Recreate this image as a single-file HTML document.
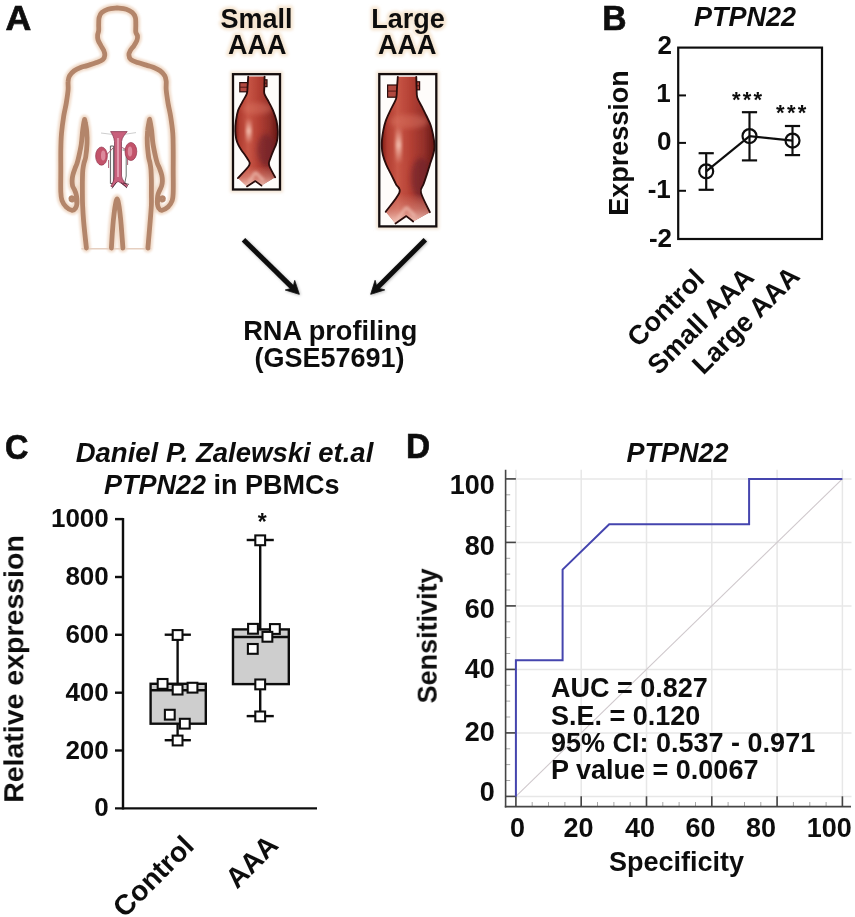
<!DOCTYPE html>
<html>
<head>
<meta charset="utf-8">
<title>Figure</title>
<style>
html,body{margin:0;padding:0;background:#fff;}
body{width:855px;height:917px;overflow:hidden;position:relative;}
svg{position:absolute;left:0;top:0;display:block;}
text{font-family:"Liberation Sans",sans-serif;font-weight:bold;fill:#111;}
.pl{font-size:35.4px;}
.ti{font-size:27px;font-style:italic;}
.tk{font-size:24.5px;}
.ax{font-size:27px;}
.st{font-weight:bold;font-size:22px;letter-spacing:2.25px;}
</style>
</head>
<body>
<svg width="855" height="917" viewBox="0 0 855 917">
<defs>
<filter id="soft" x="-5%" y="-5%" width="110%" height="110%"><feGaussianBlur stdDeviation="0.45"/></filter>
<filter id="blur1" x="-10%" y="-10%" width="120%" height="120%"><feGaussianBlur stdDeviation="1.3"/></filter>
</defs>
<rect x="0" y="0" width="855" height="917" fill="#ffffff"/>

<!-- ================= PANEL LETTERS ================= -->
<g filter="url(#soft)" class="pl" stroke="#111" stroke-width="0.7">
<text transform="translate(5.4,30.45) scale(1.01,1)">A</text>
<text transform="translate(602.3,30.45) scale(0.95,1)">B</text>
<text transform="translate(4.9,459.1) scale(0.918,1)">C</text>
<text transform="translate(405.95,458.25) scale(0.944,1)">D</text>
</g>

<!-- ================= PANEL A ================= -->
<g id="panelA">
<g fill="none" stroke-linejoin="round" stroke-linecap="round">
<g stroke="#f1dccb" stroke-width="9" filter="url(#blur1)"><path d="M86.4,248.0 C85.9,243.5 84.2,228.2 83.6,221.0 C83.0,213.8 82.8,209.3 82.6,205.0 C82.4,200.7 82.4,199.2 82.4,195.0 C82.4,190.8 82.3,184.2 82.4,180.0 C82.5,175.8 82.5,172.8 82.8,170.0 C83.1,167.2 83.5,165.2 84.0,163.0 C84.5,160.8 85.2,160.2 85.7,157.0 C86.2,153.8 86.8,148.3 87.0,144.0 C87.2,139.7 87.0,134.5 86.7,131.0 C86.4,127.5 85.8,125.0 85.4,123.0 C85.1,121.0 84.7,119.9 84.6,119.3 L84.6,119.3 C84.4,120.1 83.9,122.0 83.6,124.0 C83.3,126.0 83.0,127.7 82.6,131.0 C82.2,134.3 81.9,139.7 81.3,144.0 C80.7,148.3 79.4,153.8 78.7,157.0 C78.0,160.2 77.6,161.6 77.0,163.5 C76.4,165.4 75.7,166.6 75.0,168.5 C74.3,170.4 73.3,173.1 72.8,175.2 C72.3,177.3 72.1,179.2 72.1,181.0 C72.1,182.8 72.2,184.5 72.6,186.0 C73.0,187.5 74.0,188.6 74.6,190.0 C75.2,191.4 75.8,193.0 76.2,194.5 C76.6,196.0 76.8,197.4 76.9,199.0 C77.0,200.6 77.1,202.5 76.9,204.0 C76.7,205.5 76.4,206.9 75.6,208.0 C74.8,209.1 73.7,210.5 72.1,210.3 C70.5,210.1 67.9,208.6 66.2,207.0 C64.5,205.4 62.9,203.0 62.0,200.5 C61.1,198.0 61.0,197.1 60.8,192.0 C60.6,186.9 60.8,177.0 60.8,170.0 C60.8,163.0 60.7,156.1 60.8,150.0 C60.9,143.9 61.0,139.2 61.5,133.5 C62.0,127.8 62.9,121.2 63.7,116.1 C64.5,111.0 65.6,107.4 66.3,103.0 C67.0,98.6 67.8,93.5 68.1,89.9 C68.4,86.3 67.8,83.6 68.1,81.2 C68.3,78.8 68.6,77.5 69.6,75.7 C70.6,74.0 72.3,72.1 74.2,70.7 C76.1,69.3 79.0,68.1 81.2,67.2 C83.4,66.3 84.8,66.4 87.3,65.6 C89.8,64.8 93.9,63.6 96.5,62.6 C99.1,61.6 101.5,60.8 102.9,59.5 C104.3,58.2 104.7,56.5 104.8,55.0 C104.9,53.5 104.4,52.1 103.7,50.4 C103.0,48.7 101.5,46.8 100.6,45.0 C99.6,43.2 98.5,41.4 98.0,39.7 C97.5,38.1 97.5,36.6 97.6,35.1 C97.7,33.6 98.5,32.3 98.7,30.5 C98.9,28.7 98.6,26.5 98.7,24.4 C98.8,22.2 98.6,19.6 99.1,17.6 C99.6,15.6 100.3,14.0 101.8,12.6 C103.3,11.2 105.4,10.0 107.9,9.2 C110.5,8.4 115.6,8.2 117.1,8.0 L117.1,8.0 C118.6,8.2 123.7,8.4 126.2,9.2 C128.7,10.0 130.8,11.2 132.3,12.6 C133.8,14.0 134.8,15.6 135.4,17.6 C136.0,19.6 135.7,22.0 135.8,24.4 C135.9,26.8 135.5,30.2 135.8,32.1 C136.1,34.0 137.3,34.5 137.5,35.9 C137.7,37.3 137.5,38.9 136.9,40.5 C136.3,42.1 135.0,44.1 133.9,45.8 C132.8,47.4 131.2,48.9 130.4,50.4 C129.6,51.9 128.8,53.5 128.9,55.0 C129.0,56.5 129.3,58.2 130.8,59.5 C132.3,60.8 134.9,61.6 137.7,62.6 C140.5,63.6 145.0,64.8 147.6,65.6 C150.2,66.4 151.0,66.3 153.1,67.2 C155.2,68.1 158.2,69.3 160.1,70.7 C162.0,72.1 163.7,74.0 164.7,75.7 C165.7,77.5 165.9,78.8 166.2,81.2 C166.4,83.6 165.9,86.3 166.2,89.9 C166.5,93.5 167.3,98.6 168.0,103.0 C168.7,107.4 169.8,111.0 170.6,116.1 C171.4,121.2 172.4,127.8 172.8,133.5 C173.2,139.2 173.1,143.9 173.2,150.0 C173.3,156.1 173.2,163.0 173.2,170.0 C173.2,177.0 173.4,186.9 173.2,192.0 C173.0,197.1 173.1,198.0 172.2,200.5 C171.3,203.0 169.7,205.4 168.0,207.0 C166.3,208.6 163.4,210.1 161.8,210.3 C160.2,210.5 159.3,209.1 158.6,208.0 C157.9,206.9 157.6,205.5 157.4,204.0 C157.2,202.5 157.3,200.6 157.4,199.0 C157.5,197.4 157.6,196.0 158.0,194.5 C158.4,193.0 159.2,191.4 159.8,190.0 C160.4,188.6 161.2,187.5 161.6,186.0 C162.0,184.5 162.4,182.8 162.4,181.0 C162.4,179.2 162.3,177.3 161.8,175.2 C161.3,173.1 160.3,170.4 159.6,168.5 C158.9,166.6 158.1,165.4 157.4,163.5 C156.7,161.6 156.3,160.2 155.6,157.0 C154.9,153.8 153.7,148.3 153.0,144.0 C152.3,139.7 152.1,134.3 151.7,131.0 C151.3,127.7 150.9,126.0 150.6,124.0 C150.2,122.0 149.8,120.1 149.6,119.3 L149.6,119.3 C149.5,119.9 149.1,121.0 148.8,123.0 C148.5,125.0 147.8,127.5 147.6,131.0 C147.3,134.5 147.1,139.7 147.3,144.0 C147.5,148.3 148.2,153.8 148.6,157.0 C149.0,160.2 149.6,160.8 150.0,163.0 C150.4,165.2 150.8,167.2 151.0,170.0 C151.2,172.8 151.3,175.8 151.4,180.0 C151.5,184.2 151.4,190.8 151.4,195.0 C151.4,199.2 151.6,200.7 151.4,205.0 C151.2,209.3 150.8,213.8 150.2,221.0 C149.6,228.2 148.3,243.5 147.9,248.0"/><path d="M111.4,248.0 C111.6,245.3 112.0,237.0 112.4,232.0 C112.8,227.0 113.1,222.3 113.6,218.0 C114.1,213.7 114.6,209.2 115.2,206.0 C115.8,202.8 116.5,198.8 117.1,198.8 C117.7,198.8 118.4,202.8 119.0,206.0 C119.6,209.2 120.0,213.7 120.5,218.0 C121.0,222.3 121.3,227.0 121.7,232.0 C122.1,237.0 122.7,245.3 122.9,248.0"/></g>
<line x1="82" y1="248.8" x2="150.6" y2="248.8" stroke="#e6cfc0" stroke-width="1.6"/>
<g stroke="#b3856a" stroke-width="4.8" filter="url(#soft)"><path d="M86.4,248.0 C85.9,243.5 84.2,228.2 83.6,221.0 C83.0,213.8 82.8,209.3 82.6,205.0 C82.4,200.7 82.4,199.2 82.4,195.0 C82.4,190.8 82.3,184.2 82.4,180.0 C82.5,175.8 82.5,172.8 82.8,170.0 C83.1,167.2 83.5,165.2 84.0,163.0 C84.5,160.8 85.2,160.2 85.7,157.0 C86.2,153.8 86.8,148.3 87.0,144.0 C87.2,139.7 87.0,134.5 86.7,131.0 C86.4,127.5 85.8,125.0 85.4,123.0 C85.1,121.0 84.7,119.9 84.6,119.3 L84.6,119.3 C84.4,120.1 83.9,122.0 83.6,124.0 C83.3,126.0 83.0,127.7 82.6,131.0 C82.2,134.3 81.9,139.7 81.3,144.0 C80.7,148.3 79.4,153.8 78.7,157.0 C78.0,160.2 77.6,161.6 77.0,163.5 C76.4,165.4 75.7,166.6 75.0,168.5 C74.3,170.4 73.3,173.1 72.8,175.2 C72.3,177.3 72.1,179.2 72.1,181.0 C72.1,182.8 72.2,184.5 72.6,186.0 C73.0,187.5 74.0,188.6 74.6,190.0 C75.2,191.4 75.8,193.0 76.2,194.5 C76.6,196.0 76.8,197.4 76.9,199.0 C77.0,200.6 77.1,202.5 76.9,204.0 C76.7,205.5 76.4,206.9 75.6,208.0 C74.8,209.1 73.7,210.5 72.1,210.3 C70.5,210.1 67.9,208.6 66.2,207.0 C64.5,205.4 62.9,203.0 62.0,200.5 C61.1,198.0 61.0,197.1 60.8,192.0 C60.6,186.9 60.8,177.0 60.8,170.0 C60.8,163.0 60.7,156.1 60.8,150.0 C60.9,143.9 61.0,139.2 61.5,133.5 C62.0,127.8 62.9,121.2 63.7,116.1 C64.5,111.0 65.6,107.4 66.3,103.0 C67.0,98.6 67.8,93.5 68.1,89.9 C68.4,86.3 67.8,83.6 68.1,81.2 C68.3,78.8 68.6,77.5 69.6,75.7 C70.6,74.0 72.3,72.1 74.2,70.7 C76.1,69.3 79.0,68.1 81.2,67.2 C83.4,66.3 84.8,66.4 87.3,65.6 C89.8,64.8 93.9,63.6 96.5,62.6 C99.1,61.6 101.5,60.8 102.9,59.5 C104.3,58.2 104.7,56.5 104.8,55.0 C104.9,53.5 104.4,52.1 103.7,50.4 C103.0,48.7 101.5,46.8 100.6,45.0 C99.6,43.2 98.5,41.4 98.0,39.7 C97.5,38.1 97.5,36.6 97.6,35.1 C97.7,33.6 98.5,32.3 98.7,30.5 C98.9,28.7 98.6,26.5 98.7,24.4 C98.8,22.2 98.6,19.6 99.1,17.6 C99.6,15.6 100.3,14.0 101.8,12.6 C103.3,11.2 105.4,10.0 107.9,9.2 C110.5,8.4 115.6,8.2 117.1,8.0 L117.1,8.0 C118.6,8.2 123.7,8.4 126.2,9.2 C128.7,10.0 130.8,11.2 132.3,12.6 C133.8,14.0 134.8,15.6 135.4,17.6 C136.0,19.6 135.7,22.0 135.8,24.4 C135.9,26.8 135.5,30.2 135.8,32.1 C136.1,34.0 137.3,34.5 137.5,35.9 C137.7,37.3 137.5,38.9 136.9,40.5 C136.3,42.1 135.0,44.1 133.9,45.8 C132.8,47.4 131.2,48.9 130.4,50.4 C129.6,51.9 128.8,53.5 128.9,55.0 C129.0,56.5 129.3,58.2 130.8,59.5 C132.3,60.8 134.9,61.6 137.7,62.6 C140.5,63.6 145.0,64.8 147.6,65.6 C150.2,66.4 151.0,66.3 153.1,67.2 C155.2,68.1 158.2,69.3 160.1,70.7 C162.0,72.1 163.7,74.0 164.7,75.7 C165.7,77.5 165.9,78.8 166.2,81.2 C166.4,83.6 165.9,86.3 166.2,89.9 C166.5,93.5 167.3,98.6 168.0,103.0 C168.7,107.4 169.8,111.0 170.6,116.1 C171.4,121.2 172.4,127.8 172.8,133.5 C173.2,139.2 173.1,143.9 173.2,150.0 C173.3,156.1 173.2,163.0 173.2,170.0 C173.2,177.0 173.4,186.9 173.2,192.0 C173.0,197.1 173.1,198.0 172.2,200.5 C171.3,203.0 169.7,205.4 168.0,207.0 C166.3,208.6 163.4,210.1 161.8,210.3 C160.2,210.5 159.3,209.1 158.6,208.0 C157.9,206.9 157.6,205.5 157.4,204.0 C157.2,202.5 157.3,200.6 157.4,199.0 C157.5,197.4 157.6,196.0 158.0,194.5 C158.4,193.0 159.2,191.4 159.8,190.0 C160.4,188.6 161.2,187.5 161.6,186.0 C162.0,184.5 162.4,182.8 162.4,181.0 C162.4,179.2 162.3,177.3 161.8,175.2 C161.3,173.1 160.3,170.4 159.6,168.5 C158.9,166.6 158.1,165.4 157.4,163.5 C156.7,161.6 156.3,160.2 155.6,157.0 C154.9,153.8 153.7,148.3 153.0,144.0 C152.3,139.7 152.1,134.3 151.7,131.0 C151.3,127.7 150.9,126.0 150.6,124.0 C150.2,122.0 149.8,120.1 149.6,119.3 L149.6,119.3 C149.5,119.9 149.1,121.0 148.8,123.0 C148.5,125.0 147.8,127.5 147.6,131.0 C147.3,134.5 147.1,139.7 147.3,144.0 C147.5,148.3 148.2,153.8 148.6,157.0 C149.0,160.2 149.6,160.8 150.0,163.0 C150.4,165.2 150.8,167.2 151.0,170.0 C151.2,172.8 151.3,175.8 151.4,180.0 C151.5,184.2 151.4,190.8 151.4,195.0 C151.4,199.2 151.6,200.7 151.4,205.0 C151.2,209.3 150.8,213.8 150.2,221.0 C149.6,228.2 148.3,243.5 147.9,248.0"/><path d="M111.4,248.0 C111.6,245.3 112.0,237.0 112.4,232.0 C112.8,227.0 113.1,222.3 113.6,218.0 C114.1,213.7 114.6,209.2 115.2,206.0 C115.8,202.8 116.5,198.8 117.1,198.8 C117.7,198.8 118.4,202.8 119.0,206.0 C119.6,209.2 120.0,213.7 120.5,218.0 C121.0,222.3 121.3,227.0 121.7,232.0 C122.1,237.0 122.7,245.3 122.9,248.0"/><path d="M76.6,203 C75.6,198.6 72.6,196 70.6,197.4 C69.2,199 70.4,201.4 72.8,200.6" stroke-width="3.4"/><path d="M157.7,203 C158.7,198.6 161.7,196 163.7,197.4 C165.1,199 163.9,201.4 161.5,200.6" stroke-width="3.4"/></g>
</g>
<g filter="url(#soft)">
<path d="M110.4,146 L110.4,183.5 L113.6,183.5 L113.6,146 Z" fill="#f6f6f6" stroke="#4c4c4c" stroke-width="0.9"/>
<path d="M122.6,150 L126.2,150 L126.2,176 L124.6,184 " fill="none" stroke="#566460" stroke-width="0.9"/>
<path d="M106,155.5 L113.5,147.5 M128,150.5 L122,147.5 M108.6,160 L108.6,168 M127.6,156 L127.6,165" fill="none" stroke="#a4546a" stroke-width="0.9"/>
<path d="M101,133 L112,134.4 M124,134.4 L136,132.6" stroke="#b8b8b8" stroke-width="0.7" fill="none"/>
<ellipse cx="101.5" cy="156.1" rx="5.9" ry="9.1" fill="#c2526a" stroke="#8c2c44" stroke-width="0.6"/>
<ellipse cx="103.2" cy="155.6" rx="2.2" ry="5" fill="#dc8a9c"/>
<ellipse cx="130.9" cy="151.5" rx="5.9" ry="9.1" fill="#c2526a" stroke="#8c2c44" stroke-width="0.6"/>
<ellipse cx="130" cy="151.4" rx="2.2" ry="5" fill="#dc8a9c"/>
<path d="M110.6,131.6 L127.2,131.6 C124.8,134.6 122,137.4 121.5,141.6 L121.5,176 C122,180 125.4,183.4 128,185.8 L126.2,186.8 C123.2,184.6 120.2,182.4 118,181.4 C116.2,182.6 113.8,185.2 112.4,187 L110.8,186.2 C112.6,183.2 114.2,180 114.5,176 L114.5,141.6 C114,137.4 112.6,134.6 110.6,131.6 Z" fill="#c8607c" stroke="#7c2c46" stroke-width="0.7"/>
<path d="M118,138 L118,177" stroke="#e6a2b4" stroke-width="1.8" fill="none"/>
<path d="M112,188.4 L116.4,182.4 M127,188 L121,182.6 M123,183 L129,184.4" stroke="#3c2430" stroke-width="0.8" fill="none"/>
</g>
<defs>
<linearGradient id="gA" x1="0" x2="1" y1="0" y2="0">
<stop offset="0" stop-color="#7a1c16"/><stop offset="0.10" stop-color="#b03c30"/><stop offset="0.30" stop-color="#c85646"/>
<stop offset="0.55" stop-color="#b44034"/><stop offset="0.80" stop-color="#94302a"/><stop offset="1" stop-color="#641814"/>
</linearGradient>
<linearGradient id="gL" x1="0" x2="0" y1="0" y2="1">
<stop offset="0" stop-color="#e09486" stop-opacity="0"/><stop offset="0.45" stop-color="#e09486" stop-opacity="0.55"/><stop offset="0.85" stop-color="#f2c6ba" stop-opacity="0.95"/><stop offset="1" stop-color="#f6d6cc" stop-opacity="1"/>
</linearGradient>
<linearGradient id="gH" x1="0" x2="0" y1="0" y2="1">
<stop offset="0" stop-color="#f2b8a8" stop-opacity="0"/><stop offset="0.5" stop-color="#f4c0b0" stop-opacity="0.95"/><stop offset="1" stop-color="#f2b8a8" stop-opacity="0"/>
</linearGradient>
<filter id="blur2" x="-30%" y="-30%" width="160%" height="160%"><feGaussianBlur stdDeviation="1.6"/></filter>
<filter id="blur3" x="-30%" y="-30%" width="160%" height="160%"><feGaussianBlur stdDeviation="2.4"/></filter>
</defs>
<g filter="url(#soft)"><rect x="230" y="71.2" width="53" height="121.3" fill="#f3e4d4" filter="url(#blur2)"/>
<rect x="233" y="74.2" width="47" height="115.3" fill="#fefcfa"/>
<rect x="239.8" y="82.6" width="9.199999999999989" height="9.200000000000003" fill="#b24a40" stroke="#2a0c0a" stroke-width="1.2"/>
<line x1="239.8" y1="87.19999999999999" x2="249" y2="87.19999999999999" stroke="#4a1410" stroke-width="0.9"/>
<rect x="263.6" y="79.8" width="3.3999999999999773" height="6.799999999999997" fill="#b24a40" stroke="#2a0c0a" stroke-width="1.2"/>
<line x1="263.6" y1="83.19999999999999" x2="267" y2="83.19999999999999" stroke="#4a1410" stroke-width="0.9"/>
<clipPath id="c233"><path d="M248.2,76.6 C248.1,78.2 247.8,83.1 247.6,86.0 C247.4,88.9 247.7,91.2 246.8,93.8 C246.0,96.4 243.9,98.8 242.5,101.6 C241.1,104.4 239.2,107.2 238.1,110.4 C237.0,113.6 236.4,117.3 235.9,120.8 C235.4,124.3 235.2,128.3 235.3,131.3 C235.4,134.3 235.7,136.8 236.2,139.0 C236.7,141.2 237.3,142.8 238.2,144.6 C239.0,146.4 239.7,147.5 241.3,149.9 C242.9,152.3 246.3,156.5 247.6,159.0 C248.9,161.5 250.9,161.9 249.3,165.1 C247.7,168.3 239.8,175.8 237.9,178.0 L247.0,186.4 L255.4,181.1 L261.5,185.6 L275.2,177.3 C274.2,175.3 269.9,168.2 269.1,165.1 C268.3,162.0 269.4,161.5 270.2,159.0 C271.0,156.5 272.7,152.3 273.7,149.9 C274.7,147.5 275.4,146.4 276.0,144.6 C276.6,142.8 277.1,141.2 277.4,139.0 C277.7,136.8 277.9,134.3 277.8,131.3 C277.7,128.3 277.3,124.3 276.5,120.8 C275.7,117.3 274.3,113.6 273.0,110.4 C271.7,107.2 270.0,104.4 268.6,101.6 C267.2,98.8 265.1,96.4 264.4,93.8 C263.7,91.2 264.4,88.9 264.4,86.0 C264.4,83.1 264.6,78.2 264.6,76.6 Z"/></clipPath>
<path d="M248.2,76.6 C248.1,78.2 247.8,83.1 247.6,86.0 C247.4,88.9 247.7,91.2 246.8,93.8 C246.0,96.4 243.9,98.8 242.5,101.6 C241.1,104.4 239.2,107.2 238.1,110.4 C237.0,113.6 236.4,117.3 235.9,120.8 C235.4,124.3 235.2,128.3 235.3,131.3 C235.4,134.3 235.7,136.8 236.2,139.0 C236.7,141.2 237.3,142.8 238.2,144.6 C239.0,146.4 239.7,147.5 241.3,149.9 C242.9,152.3 246.3,156.5 247.6,159.0 C248.9,161.5 250.9,161.9 249.3,165.1 C247.7,168.3 239.8,175.8 237.9,178.0 L247.0,186.4 L255.4,181.1 L261.5,185.6 L275.2,177.3 C274.2,175.3 269.9,168.2 269.1,165.1 C268.3,162.0 269.4,161.5 270.2,159.0 C271.0,156.5 272.7,152.3 273.7,149.9 C274.7,147.5 275.4,146.4 276.0,144.6 C276.6,142.8 277.1,141.2 277.4,139.0 C277.7,136.8 277.9,134.3 277.8,131.3 C277.7,128.3 277.3,124.3 276.5,120.8 C275.7,117.3 274.3,113.6 273.0,110.4 C271.7,107.2 270.0,104.4 268.6,101.6 C267.2,98.8 265.1,96.4 264.4,93.8 C263.7,91.2 264.4,88.9 264.4,86.0 C264.4,83.1 264.6,78.2 264.6,76.6 Z" fill="url(#gA)"/>
<g clip-path="url(#c233)">
<ellipse cx="266" cy="150" rx="9" ry="16" fill="#5e1a2c" opacity="0.5" filter="url(#blur3)"/>
<ellipse cx="257" cy="108.5" rx="15" ry="6" fill="#dc7866" opacity="0.45" filter="url(#blur3)"/>
<rect x="246" y="118" width="5.6" height="26" rx="2" fill="url(#gH)" filter="url(#blur2)"/>
<rect x="233" y="166.1" width="47" height="23.4" fill="url(#gL)"/>
<path d="M255.4,172.1 L249.0,182.4 M255.4,172.1 L263.5,180.6" stroke="#f2c4b8" stroke-width="3" fill="none" opacity="0.7" filter="url(#blur2)"/>
</g>
<path d="M248.2,76.6 C248.1,78.2 247.8,83.1 247.6,86.0 C247.4,88.9 247.7,91.2 246.8,93.8 C246.0,96.4 243.9,98.8 242.5,101.6 C241.1,104.4 239.2,107.2 238.1,110.4 C237.0,113.6 236.4,117.3 235.9,120.8 C235.4,124.3 235.2,128.3 235.3,131.3 C235.4,134.3 235.7,136.8 236.2,139.0 C236.7,141.2 237.3,142.8 238.2,144.6 C239.0,146.4 239.7,147.5 241.3,149.9 C242.9,152.3 246.3,156.5 247.6,159.0 C248.9,161.5 250.9,161.9 249.3,165.1 C247.7,168.3 239.8,175.8 237.9,178.0 M264.6,76.6 C264.6,78.2 264.4,83.1 264.4,86.0 C264.4,88.9 263.7,91.2 264.4,93.8 C265.1,96.4 267.2,98.8 268.6,101.6 C270.0,104.4 271.7,107.2 273.0,110.4 C274.3,113.6 275.7,117.3 276.5,120.8 C277.3,124.3 277.7,128.3 277.8,131.3 C277.9,134.3 277.7,136.8 277.4,139.0 C277.1,141.2 276.6,142.8 276.0,144.6 C275.4,146.4 274.7,147.5 273.7,149.9 C272.7,152.3 271.0,156.5 270.2,159.0 C269.4,161.5 268.3,162.0 269.1,165.1 C269.9,168.2 274.2,175.3 275.2,177.3 M247.0,186.4 L255.4,181.1 L261.5,185.6" fill="none" stroke="#2a0a08" stroke-width="1.8" stroke-linecap="round" stroke-linejoin="round"/>
<rect x="233" y="74.2" width="47" height="115.3" fill="none" stroke="#141010" stroke-width="2.3"/>
<rect x="376.3" y="71.1" width="63.0" height="158.3" fill="#f3e4d4" filter="url(#blur2)"/>
<rect x="379.3" y="74.1" width="57.0" height="152.3" fill="#fefcfa"/>
<rect x="387.6" y="85" width="11.399999999999977" height="12.200000000000003" fill="#b24a40" stroke="#2a0c0a" stroke-width="1.2"/>
<line x1="387.6" y1="91.1" x2="399" y2="91.1" stroke="#4a1410" stroke-width="0.9"/>
<rect x="415" y="81.8" width="4.600000000000023" height="8.0" fill="#b24a40" stroke="#2a0c0a" stroke-width="1.2"/>
<line x1="415" y1="85.8" x2="419.6" y2="85.8" stroke="#4a1410" stroke-width="0.9"/>
<clipPath id="c379"><path d="M397.8,76.8 C397.7,78.7 397.2,84.6 397.0,88.0 C396.8,91.4 396.8,95.1 396.4,97.4 C396.0,99.8 395.7,99.8 394.6,102.1 C393.5,104.4 391.4,108.2 389.9,111.3 C388.4,114.4 386.9,117.5 385.8,120.6 C384.7,123.7 384.0,126.8 383.4,129.9 C382.8,133.0 382.3,136.2 382.0,139.1 C381.7,141.9 381.7,144.4 381.8,147.0 C381.9,149.6 382.1,151.9 382.8,154.8 C383.5,157.7 384.8,161.3 386.2,164.6 C387.6,167.9 389.5,171.1 391.1,174.4 C392.7,177.7 394.6,181.3 396.0,184.3 C397.4,187.3 401.1,188.0 399.4,192.6 C397.7,197.2 388.0,208.5 385.7,211.7 L395.5,223.5 L406.3,216.1 L413.2,221.5 L429.9,212.2 C428.4,208.9 422.1,197.2 421.0,192.6 C419.9,187.9 422.5,187.3 423.5,184.3 C424.5,181.3 425.8,177.7 426.9,174.4 C428.0,171.1 428.9,167.6 429.9,164.6 C430.8,161.6 431.9,158.9 432.6,156.5 C433.3,154.1 433.9,152.1 434.2,150.0 C434.5,147.9 434.6,146.4 434.4,143.8 C434.2,141.2 433.6,137.6 433.0,134.5 C432.4,131.4 431.8,128.3 430.7,125.2 C429.6,122.1 428.0,119.1 426.5,116.0 C425.0,112.9 423.4,109.8 421.9,106.7 C420.4,103.6 418.2,100.5 417.3,97.4 C416.4,94.3 416.8,91.4 416.6,88.0 C416.4,84.6 416.4,78.7 416.3,76.8 Z"/></clipPath>
<path d="M397.8,76.8 C397.7,78.7 397.2,84.6 397.0,88.0 C396.8,91.4 396.8,95.1 396.4,97.4 C396.0,99.8 395.7,99.8 394.6,102.1 C393.5,104.4 391.4,108.2 389.9,111.3 C388.4,114.4 386.9,117.5 385.8,120.6 C384.7,123.7 384.0,126.8 383.4,129.9 C382.8,133.0 382.3,136.2 382.0,139.1 C381.7,141.9 381.7,144.4 381.8,147.0 C381.9,149.6 382.1,151.9 382.8,154.8 C383.5,157.7 384.8,161.3 386.2,164.6 C387.6,167.9 389.5,171.1 391.1,174.4 C392.7,177.7 394.6,181.3 396.0,184.3 C397.4,187.3 401.1,188.0 399.4,192.6 C397.7,197.2 388.0,208.5 385.7,211.7 L395.5,223.5 L406.3,216.1 L413.2,221.5 L429.9,212.2 C428.4,208.9 422.1,197.2 421.0,192.6 C419.9,187.9 422.5,187.3 423.5,184.3 C424.5,181.3 425.8,177.7 426.9,174.4 C428.0,171.1 428.9,167.6 429.9,164.6 C430.8,161.6 431.9,158.9 432.6,156.5 C433.3,154.1 433.9,152.1 434.2,150.0 C434.5,147.9 434.6,146.4 434.4,143.8 C434.2,141.2 433.6,137.6 433.0,134.5 C432.4,131.4 431.8,128.3 430.7,125.2 C429.6,122.1 428.0,119.1 426.5,116.0 C425.0,112.9 423.4,109.8 421.9,106.7 C420.4,103.6 418.2,100.5 417.3,97.4 C416.4,94.3 416.8,91.4 416.6,88.0 C416.4,84.6 416.4,78.7 416.3,76.8 Z" fill="url(#gA)"/>
<g clip-path="url(#c379)">
<ellipse cx="421" cy="178" rx="10" ry="20" fill="#5e1a2c" opacity="0.5" filter="url(#blur3)"/>
<ellipse cx="409" cy="121.5" rx="19" ry="7" fill="#dc7866" opacity="0.45" filter="url(#blur3)"/>
<rect x="395.6" y="126" width="6" height="38" rx="2" fill="url(#gH)" filter="url(#blur2)"/>
<rect x="379.3" y="193.6" width="57.0" height="32.8" fill="url(#gL)"/>
<path d="M406.3,207.1 L397.5,219.5 M406.3,207.1 L415.2,216.5" stroke="#f2c4b8" stroke-width="3" fill="none" opacity="0.7" filter="url(#blur2)"/>
</g>
<path d="M397.8,76.8 C397.7,78.7 397.2,84.6 397.0,88.0 C396.8,91.4 396.8,95.1 396.4,97.4 C396.0,99.8 395.7,99.8 394.6,102.1 C393.5,104.4 391.4,108.2 389.9,111.3 C388.4,114.4 386.9,117.5 385.8,120.6 C384.7,123.7 384.0,126.8 383.4,129.9 C382.8,133.0 382.3,136.2 382.0,139.1 C381.7,141.9 381.7,144.4 381.8,147.0 C381.9,149.6 382.1,151.9 382.8,154.8 C383.5,157.7 384.8,161.3 386.2,164.6 C387.6,167.9 389.5,171.1 391.1,174.4 C392.7,177.7 394.6,181.3 396.0,184.3 C397.4,187.3 401.1,188.0 399.4,192.6 C397.7,197.2 388.0,208.5 385.7,211.7 M416.3,76.8 C416.4,78.7 416.4,84.6 416.6,88.0 C416.8,91.4 416.4,94.3 417.3,97.4 C418.2,100.5 420.4,103.6 421.9,106.7 C423.4,109.8 425.0,112.9 426.5,116.0 C428.0,119.1 429.6,122.1 430.7,125.2 C431.8,128.3 432.4,131.4 433.0,134.5 C433.6,137.6 434.2,141.2 434.4,143.8 C434.6,146.4 434.5,147.9 434.2,150.0 C433.9,152.1 433.3,154.1 432.6,156.5 C431.9,158.9 430.8,161.6 429.9,164.6 C428.9,167.6 428.0,171.1 426.9,174.4 C425.8,177.7 424.5,181.3 423.5,184.3 C422.5,187.3 419.9,187.9 421.0,192.6 C422.1,197.2 428.4,208.9 429.9,212.2 M395.5,223.5 L406.3,216.1 L413.2,221.5" fill="none" stroke="#2a0a08" stroke-width="1.8" stroke-linecap="round" stroke-linejoin="round"/>
<rect x="379.3" y="74.1" width="57.0" height="152.3" fill="none" stroke="#141010" stroke-width="2.3"/></g>
<g text-anchor="middle" style="font-size:27px">
<g stroke="#f6e6d2" stroke-width="5" stroke-linejoin="round" fill="#f6e6d2" filter="url(#blur2)">
<text x="256.5" y="27.6">Small</text><text x="257.3" y="53.8">AAA</text>
<text x="408" y="27.6">Large</text><text x="407.2" y="53.8">AAA</text>
</g>
<g  filter="url(#soft)">
<text x="256.5" y="27.6">Small</text><text x="257.3" y="53.8">AAA</text>
<text x="408" y="27.6">Large</text><text x="407.2" y="53.8">AAA</text>
</g>
</g>
<g filter="url(#soft)"><text x="330.3" y="340.4" text-anchor="middle" style="font-size:27.2px">RNA profiling</text>
<text x="329.5" y="366.8" text-anchor="middle" style="font-size:27px">(GSE57691)</text></g>
<g filter="url(#blur2)" opacity="0.45" stroke="#555" fill="#555" transform="translate(0.8,0.8)"><line x1="243.5" y1="239.7" x2="293.2" y2="288.4" stroke-width="5.0"/><path d="M299.3,294.3 L285.3,290.0 L292.9,288.0 L294.7,280.4 Z" stroke-width="0.8" stroke-linejoin="round"/><line x1="425.3" y1="239.7" x2="376.7" y2="288.3" stroke-width="5.0"/><path d="M370.7,294.3 L375.1,280.3 L377.1,287.9 L384.7,289.9 Z" stroke-width="0.8" stroke-linejoin="round"/></g>
<g filter="url(#soft)" stroke="#0c0c0c" fill="#0c0c0c"><line x1="243.5" y1="239.7" x2="293.2" y2="288.4" stroke-width="5.0"/><path d="M299.3,294.3 L285.3,290.0 L292.9,288.0 L294.7,280.4 Z" stroke-width="0.8" stroke-linejoin="round"/><line x1="425.3" y1="239.7" x2="376.7" y2="288.3" stroke-width="5.0"/><path d="M370.7,294.3 L375.1,280.3 L377.1,287.9 L384.7,289.9 Z" stroke-width="0.8" stroke-linejoin="round"/></g>
</g>

<!-- ================= PANEL B ================= -->
<g id="panelB" filter="url(#soft)">
<text class="ti" x="745" y="26" text-anchor="middle">PTPN22</text>
<rect x="678.2" y="47.6" width="143.8" height="191.4" fill="none" stroke="#111" stroke-width="2.2"/>
<g stroke="#111" stroke-width="2">
<line x1="678" y1="95.4" x2="686" y2="95.4"/>
<line x1="678" y1="142.9" x2="686" y2="142.9"/>
<line x1="678" y1="190.8" x2="686" y2="190.8"/>
</g>
<g class="tk" text-anchor="end" style="font-size:26px">
<text x="672" y="54.4">2</text>
<text x="670.8" y="102.1">1</text>
<text x="671.4" y="150.1">0</text>
<text x="670.8" y="198.4">-1</text>
<text x="672" y="246.8">-2</text>
</g>
<text class="ax" transform="translate(628,143) rotate(-90)" text-anchor="middle">Expression</text>
<!-- series -->
<g stroke="#111" stroke-width="2.2" fill="none">
<polyline points="706.2,171.3 749.5,136.1 792.5,140.6"/>
<line x1="706.2" y1="153.2" x2="706.2" y2="189.8"/><line x1="698.6" y1="153.2" x2="713.8000000000001" y2="153.2"/><line x1="698.6" y1="189.8" x2="713.8000000000001" y2="189.8"/>
<line x1="749.5" y1="112.2" x2="749.5" y2="160.4"/><line x1="741.9" y1="112.2" x2="757.1" y2="112.2"/><line x1="741.9" y1="160.4" x2="757.1" y2="160.4"/>
<line x1="792.5" y1="126" x2="792.5" y2="155.1"/><line x1="784.9" y1="126" x2="800.1" y2="126"/><line x1="784.9" y1="155.1" x2="800.1" y2="155.1"/>
<circle cx="706.2" cy="171.3" r="7"/><circle cx="749.5" cy="136.1" r="7"/><circle cx="792.5" cy="140.6" r="7"/>
</g>
<text class="st" x="748.1" y="106.5" text-anchor="middle">***</text>
<text class="st" x="792.3" y="119.6" text-anchor="middle">***</text>
<g class="ax" text-anchor="end">
<text transform="translate(706,280.4) rotate(-45)">Control</text>
<text transform="translate(755.5,279) rotate(-45)">Small AAA</text>
<text transform="translate(801.2,277.8) rotate(-45)">Large AAA</text>
</g>
</g>

<!-- ================= PANEL C ================= -->
<g id="panelC" filter="url(#soft)">
<text class="ti" x="224.5" y="461.5" text-anchor="middle" style="font-size:27.5px">Daniel P. Zalewski et.al</text>
<text x="221.8" y="493.8" text-anchor="middle" style="font-size:27px"><tspan font-style="italic">PTPN22</tspan> in PBMCs</text>
<g stroke="#111" stroke-width="2.4" fill="none">
<line x1="123" y1="518.0" x2="123" y2="809.5"/>
<line x1="115" y1="808.4" x2="317" y2="808.4"/>
<line x1="115" y1="750.5" x2="123" y2="750.5"/>
<line x1="115" y1="692.7" x2="123" y2="692.7"/>
<line x1="115" y1="634.8" x2="123" y2="634.8"/>
<line x1="115" y1="577.0" x2="123" y2="577.0"/>
<line x1="115" y1="519.1" x2="123" y2="519.1"/>
</g>
<g class="tk" text-anchor="end" style="font-size:26px">
<text x="108.8" y="816.1">0</text>
<text x="108.8" y="758.6">200</text>
<text x="108.8" y="700.8">400</text>
<text x="108.8" y="642.9">600</text>
<text x="108.8" y="585.1">800</text>
<text x="108.8" y="527.2">1000</text>
</g>
<text class="ax" style="font-size:28.5px" transform="translate(23.3,669) rotate(-90)" text-anchor="middle">Relative expression</text>
<g stroke="#111" stroke-width="2.4" fill="#cecece">
<line x1="177.6" y1="634.7" x2="177.6" y2="740.2"/>
<line x1="164.7" y1="634.7" x2="190.9" y2="634.7"/><line x1="164.7" y1="740.2" x2="190.9" y2="740.2"/>
<rect x="150.6" y="683.8" width="55.2" height="39.9"/>
<line x1="150.6" y1="690.3" x2="205.8" y2="690.3"/>
<line x1="260.2" y1="540" x2="260.2" y2="716.1"/>
<line x1="246.7" y1="540" x2="273.8" y2="540"/><line x1="246.7" y1="716.1" x2="273.8" y2="716.1"/>
<rect x="233" y="629.4" width="55.8" height="54.7"/>
<line x1="233" y1="637" x2="288.8" y2="637"/>
</g>
<g stroke="#111" stroke-width="2.1" fill="#fff">
<rect x="172.7" y="630.1" width="9.8" height="9.8"/>
<rect x="157.7" y="679.0" width="9.8" height="9.8"/>
<rect x="172.7" y="684.7" width="9.8" height="9.8"/>
<rect x="187.6" y="682.8" width="9.8" height="9.8"/>
<rect x="164.9" y="709.8" width="9.8" height="9.8"/>
<rect x="179.9" y="718.8" width="9.8" height="9.8"/>
<rect x="172.7" y="735.6" width="9.8" height="9.8"/>
<rect x="255.3" y="535.4" width="9.8" height="9.8"/>
<rect x="248.1" y="623.9" width="9.8" height="9.8"/>
<rect x="270.0" y="624.1" width="9.8" height="9.8"/>
<rect x="262.5" y="631.9" width="9.8" height="9.8"/>
<rect x="247.9" y="644.0" width="9.8" height="9.8"/>
<rect x="255.3" y="679.5" width="9.8" height="9.8"/>
<rect x="255.3" y="711.5" width="9.8" height="9.8"/>
</g>
<text class="st" x="262.3" y="529.8" text-anchor="middle" style="font-size:23px;letter-spacing:0">*</text>
<g class="ax" text-anchor="end">
<text style="font-size:28.3px" transform="translate(195.6,847.6) rotate(-45)">Control</text>
<text style="font-size:28px" transform="translate(279.8,846.8) rotate(-45)">AAA</text>
</g>
</g>

<!-- ================= PANEL D ================= -->
<g id="panelD" filter="url(#soft)">
<g stroke="#e7e7e7" stroke-width="1.5" fill="none">
<line x1="515.9" y1="469.8" x2="515.9" y2="806.6"/>
<line x1="505.6" y1="796.4" x2="851.5" y2="796.4"/>
<line x1="581.2" y1="469.8" x2="581.2" y2="806.6"/>
<line x1="505.6" y1="732.9" x2="851.5" y2="732.9"/>
<line x1="646.5" y1="469.8" x2="646.5" y2="806.6"/>
<line x1="505.6" y1="669.4" x2="851.5" y2="669.4"/>
<line x1="711.8" y1="469.8" x2="711.8" y2="806.6"/>
<line x1="505.6" y1="605.9" x2="851.5" y2="605.9"/>
<line x1="777.1" y1="469.8" x2="777.1" y2="806.6"/>
<line x1="505.6" y1="542.4" x2="851.5" y2="542.4"/>
<line x1="842.4" y1="469.8" x2="842.4" y2="806.6"/>
<line x1="505.6" y1="478.9" x2="851.5" y2="478.9"/>
</g>
<line x1="515.9" y1="796.4" x2="842.4" y2="478.9" stroke="#cfc8cc" stroke-width="1.1"/>
<g stroke="#a8a8a8" stroke-width="1" fill="none">
<line x1="505.6" y1="780.5" x2="510.2" y2="780.5"/>
<line x1="532.2" y1="806.6" x2="532.2" y2="802"/>
<line x1="505.6" y1="764.6" x2="510.2" y2="764.6"/>
<line x1="548.5" y1="806.6" x2="548.5" y2="802"/>
<line x1="505.6" y1="748.8" x2="510.2" y2="748.8"/>
<line x1="564.9" y1="806.6" x2="564.9" y2="802"/>
<line x1="505.6" y1="717.0" x2="510.2" y2="717.0"/>
<line x1="597.5" y1="806.6" x2="597.5" y2="802"/>
<line x1="505.6" y1="701.1" x2="510.2" y2="701.1"/>
<line x1="613.9" y1="806.6" x2="613.9" y2="802"/>
<line x1="505.6" y1="685.3" x2="510.2" y2="685.3"/>
<line x1="630.2" y1="806.6" x2="630.2" y2="802"/>
<line x1="505.6" y1="653.5" x2="510.2" y2="653.5"/>
<line x1="662.8" y1="806.6" x2="662.8" y2="802"/>
<line x1="505.6" y1="637.6" x2="510.2" y2="637.6"/>
<line x1="679.1" y1="806.6" x2="679.1" y2="802"/>
<line x1="505.6" y1="621.8" x2="510.2" y2="621.8"/>
<line x1="695.5" y1="806.6" x2="695.5" y2="802"/>
<line x1="505.6" y1="590.0" x2="510.2" y2="590.0"/>
<line x1="728.1" y1="806.6" x2="728.1" y2="802"/>
<line x1="505.6" y1="574.1" x2="510.2" y2="574.1"/>
<line x1="744.5" y1="806.6" x2="744.5" y2="802"/>
<line x1="505.6" y1="558.3" x2="510.2" y2="558.3"/>
<line x1="760.8" y1="806.6" x2="760.8" y2="802"/>
<line x1="505.6" y1="526.5" x2="510.2" y2="526.5"/>
<line x1="793.4" y1="806.6" x2="793.4" y2="802"/>
<line x1="505.6" y1="510.6" x2="510.2" y2="510.6"/>
<line x1="809.8" y1="806.6" x2="809.8" y2="802"/>
<line x1="505.6" y1="494.8" x2="510.2" y2="494.8"/>
<line x1="826.1" y1="806.6" x2="826.1" y2="802"/>
</g>
<g stroke="#444" stroke-width="1.6" fill="none">
<line x1="505.6" y1="469.8" x2="505.6" y2="807.4"/>
<line x1="504.8" y1="806.6" x2="851" y2="806.6"/>
<line x1="505.6" y1="796.4" x2="515.9" y2="796.4"/>
<line x1="515.9" y1="806.6" x2="515.9" y2="796.3"/>
<line x1="505.6" y1="732.9" x2="515.9" y2="732.9"/>
<line x1="581.2" y1="806.6" x2="581.2" y2="796.3"/>
<line x1="505.6" y1="669.4" x2="515.9" y2="669.4"/>
<line x1="646.5" y1="806.6" x2="646.5" y2="796.3"/>
<line x1="505.6" y1="605.9" x2="515.9" y2="605.9"/>
<line x1="711.8" y1="806.6" x2="711.8" y2="796.3"/>
<line x1="505.6" y1="542.4" x2="515.9" y2="542.4"/>
<line x1="777.1" y1="806.6" x2="777.1" y2="796.3"/>
<line x1="505.6" y1="478.9" x2="515.9" y2="478.9"/>
<line x1="842.4" y1="806.6" x2="842.4" y2="796.3"/>
</g>
<polyline fill="none" stroke="#4444ae" stroke-width="2" stroke-linejoin="miter" points="515.9,796.4 515.9,660.3 562.6,660.3 562.6,569.6 609.2,524.3 749.1,524.3 749.1,478.9 842.4,478.9"/>
<g>
<text class="ti" x="677.5" y="461.5" text-anchor="middle">PTPN22</text>
<g class="tk" text-anchor="end" style="font-size:27px">
<text x="494.8" y="801">0</text>
<text x="494.8" y="741">20</text>
<text x="494.8" y="677.8">40</text>
<text x="494.8" y="617.8">60</text>
<text x="494.8" y="555">80</text>
<text x="494.8" y="494">100</text>
</g>
<g class="tk" text-anchor="middle" style="font-size:27px">
<text x="517.6" y="836.6">0</text>
<text x="578.5" y="836.6">20</text>
<text x="640" y="836.6">40</text>
<text x="700.5" y="836.6">60</text>
<text x="761" y="836.6">80</text>
<text x="829.3" y="836.6">100</text>
</g>
<text class="ax" transform="translate(436.7,635.9) rotate(-90)" text-anchor="middle">Sensitivity</text>
<text class="ax" x="676.6" y="871" text-anchor="middle">Specificity</text>
<g style="font-size:27px">
<text x="551" y="697.3">AUC = 0.827</text>
<text x="551" y="724.6">S.E. = 0.120</text>
<text x="551" y="751.9">95% CI: 0.537 - 0.971</text>
<text x="551" y="779.2">P value = 0.0067</text>
</g>
</g>
</g>
</svg>
</body>
</html>
